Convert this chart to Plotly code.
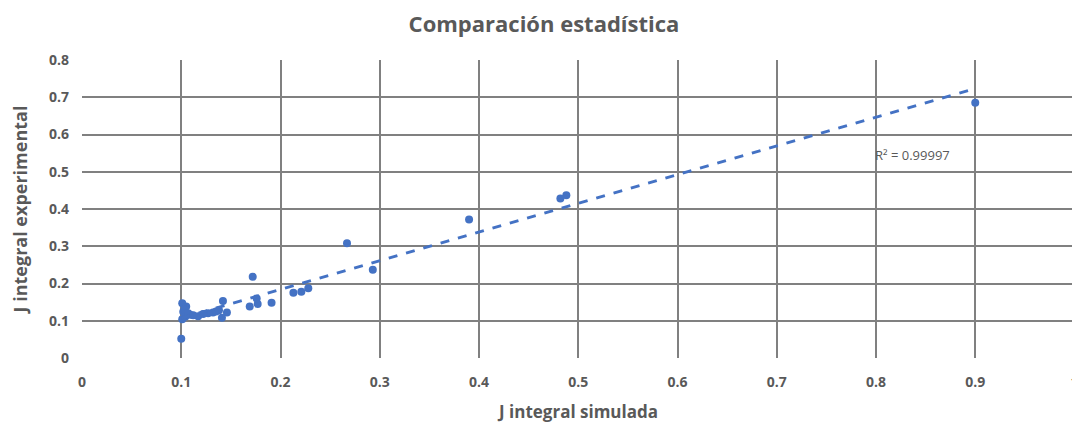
import numpy as np
import plotly.graph_objects as go

j_sim = [0.900, 0.488, 0.482, 0.390, 0.267, 0.293, 0.172, 0.228, 0.221, 0.213,
         0.191, 0.177, 0.176, 0.169, 0.142, 0.146, 0.141, 0.132, 0.127, 0.117,
         0.109, 0.105, 0.104, 0.102, 0.101, 0.101, 0.100, 0.103, 0.107, 0.112,
         0.122, 0.135, 0.138]
j_exp = [0.685, 0.437, 0.428, 0.372, 0.308, 0.237, 0.218, 0.187, 0.178, 0.175,
         0.148, 0.145, 0.160, 0.138, 0.153, 0.122, 0.108, 0.122, 0.120, 0.112,
         0.116, 0.138, 0.111, 0.124, 0.147, 0.104, 0.052, 0.130, 0.120, 0.115,
         0.118, 0.125, 0.128]

x_ticks = [0, 0.1, 0.2, 0.3, 0.4, 0.5, 0.6, 0.7, 0.8, 0.9, 1]
x_tick_text = ["0", "0.1", "0.2", "0.3", "0.4", "0.5", "0.6", "0.7", "0.8", "0.9", "1"]

r2_label = "R² = 0.99997"
title = "Comparación estadística"
x_title = "J integral simulada"
y_title = "J integral experimental"

slope, intercept = np.polyfit(j_sim, j_exp, 1)
xfit = [min(j_sim), max(j_sim)]
yfit = [slope * v + intercept for v in xfit]

blue = "#4472C4"
grey = "#595959"
font = "Open Sans"

fig = go.Figure()
fig.add_trace(go.Scatter(x=j_sim, y=j_exp, mode="markers",
                         marker=dict(color=blue, size=8), showlegend=False))
fig.add_trace(go.Scatter(x=xfit, y=yfit, mode="lines",
                         line=dict(color=blue, width=3, dash="dash"), showlegend=False))

fig.add_annotation(x=0.8, y=0.545, xref="x", yref="y", text=r2_label, showarrow=False,
                   xanchor="left", yanchor="middle", xshift=-3,
                   font=dict(family=font, size=13, color=grey))

# page body adds an 8px offset, so the figure is sized to end at the window edge
fig.update_layout(
    width=1072, height=415,
    margin=dict(l=74, r=5, t=52, b=65),
    paper_bgcolor="white", plot_bgcolor="white",
    title=dict(text="<b>" + title + "</b>", x=0.5, xanchor="center",
               yref="container", y=0.96, yanchor="middle",
               font=dict(family=font, size=22, color=grey)),
    xaxis=dict(range=[0, 1.0005], tickvals=x_ticks, ticktext=x_tick_text, automargin=False,
               showgrid=True, gridcolor="#808080", gridwidth=2,
               zeroline=False, showline=False, ticks="", ticklabelstandoff=14,
               ticklabeloverflow="allow",
               tickfont=dict(family=font, size=14, color=grey, weight="bold"),
               title=dict(text="<b>" + x_title + "</b>", standoff=22,
                          font=dict(family=font, size=17, color=grey))),
    yaxis=dict(range=[0, 0.8], dtick=0.1, tickformat="~g", automargin=False,
               showgrid=True, gridcolor="#808080", gridwidth=2,
               zeroline=False, showline=False, ticks="", ticklabelstandoff=12,
               tickfont=dict(family=font, size=14, color=grey, weight="bold"),
               title=dict(text="<b>" + y_title + "</b>", standoff=18,
                          font=dict(family=font, size=18, color=grey))),
)

fig.write_html("out.html")
